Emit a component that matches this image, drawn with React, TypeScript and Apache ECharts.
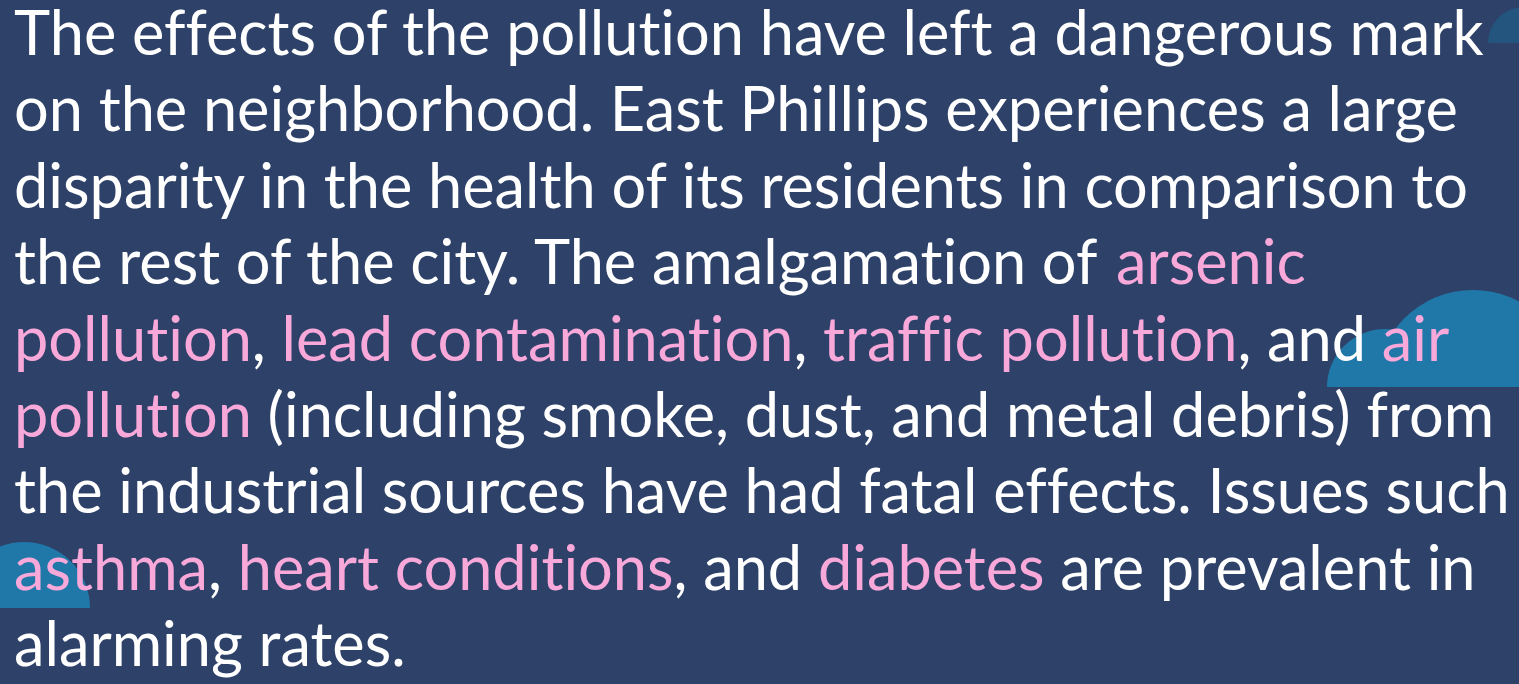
import React, { useEffect, useRef } from "react";
import * as echarts from "echarts";

// Text lines: each segment is [text, style] where style is "w" (white) or "p" (pink highlight)
const line1: [string, string][] = [["The effects of the pollution have left a dangerous mark", "w"]];
const line2: [string, string][] = [["on the neighborhood. East Phillips experiences a large", "w"]];
const line3: [string, string][] = [["disparity in the health of its residents in comparison to", "w"]];
const line4: [string, string][] = [["the rest of the city. The amalgamation of ", "w"], ["arsenic", "p"]];
const line5: [string, string][] = [["pollution", "p"], [", ", "w"], ["lead contamination", "p"], [", ", "w"], ["traffic pollution", "p"], [", and ", "w"], ["air", "p"]];
const line6: [string, string][] = [["pollution", "p"], [" (including smoke, dust, and metal debris) from", "w"]];
const line7: [string, string][] = [["the industrial sources have had fatal effects. Issues such", "w"]];
const line8: [string, string][] = [["asthma", "p"], [", ", "w"], ["heart conditions", "p"], [", and ", "w"], ["diabetes", "p"], [" are prevalent in", "w"]];
const line9: [string, string][] = [["alarming rates.", "w"]];
const lines = [line1, line2, line3, line4, line5, line6, line7, line8, line9];

// Decorative cloud bumps: [cx, cy, r, colorKey]
const clouds: [number, number, number, string][] = [
  [1524, 43, 36, "dark"],
  [1385, 387, 58, "mid"],
  [1473, 387, 97, "mid"],
  [24, 608, 66, "mid"],
];

const BG = "#2e4169";
const WHITE = "#ffffff";
const PINK = "#f8a8d9";
const CLOUD: Record<string, string> = { dark: "#23557f", mid: "#1f78a8" };

// break typographic ligatures (fi, ff, ti, ft) with a zero-width non-joiner
const noLig = (t: string) => t.replace(/([ft])(?=[fitl])/g, "$1\u200C");

export default function App() {
  const ref = useRef<HTMLDivElement>(null);
  useEffect(() => {
    document.body.style.margin = "0";
    const chart = echarts.init(ref.current!, null, { renderer: "svg" });
    const fontSize = 61.3;
    const pitch = 76.4;
    const firstCenter = 31;
    const graphics: any[] = [];
    clouds.forEach(([cx, cy, r, c]) => {
      graphics.push({
        type: "sector",
        shape: { cx, cy, r, r0: 0, startAngle: Math.PI, endAngle: Math.PI * 2 },
        style: { fill: CLOUD[c] },
        silent: true,
      });
    });
    lines.forEach((segs, i) => {
      const text = segs.map(([t, s]) => `{${s}|${noLig(t.replace(/[{}|]/g, ""))}}`).join("");
      graphics.push({
        type: "text",
        x: 14,
        y: firstCenter + i * pitch,
        style: {
          text,
          verticalAlign: "middle",
          align: "left",
          rich: {
            w: { fill: WHITE, fontSize, fontFamily: "Lato", fontWeight: 400 },
            p: { fill: PINK, fontSize, fontFamily: "Lato", fontWeight: 400 },
          },
        },
      });
    });
    chart.setOption({
      animation: false,
      backgroundColor: BG,
      graphic: { elements: graphics },
    });
    return () => chart.dispose();
  }, []);
  return <div ref={ref} style={{ width: 1519, height: 684 }} />;
}
